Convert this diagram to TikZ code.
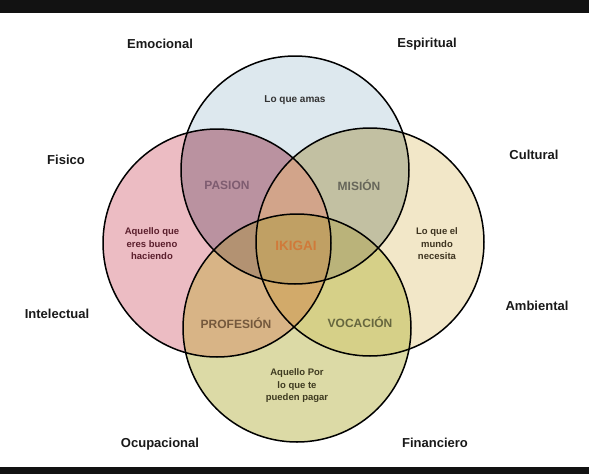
\documentclass[tikz,border=0pt]{standalone}
\usepackage{fontspec}
\setmainfont{Liberation Sans}
\begin{document}
\begin{tikzpicture}[x=1pt,y=1pt,
  ring/.style={circle, draw=black, line width=1.5pt, minimum size=228pt, inner sep=0pt},
  outer/.style={font=\bfseries\fontsize{13}{14}\selectfont, text=black!90},
  zone/.style={font=\bfseries\fontsize{12}{14}\selectfont},
  desc/.style={font=\bfseries\fontsize{9.5}{12.5}\selectfont, align=center}]
\definecolor{cTop}{HTML}{DDE8EE}
\definecolor{cLeft}{HTML}{ECBCC3}
\definecolor{cRight}{HTML}{F2E7C8}
\definecolor{cBot}{HTML}{DCDAA6}
\definecolor{cTL}{HTML}{BA92A0}
\definecolor{cTR}{HTML}{C2C0A2}
\definecolor{cLB}{HTML}{D8B486}
\definecolor{cRB}{HTML}{D6D088}
\definecolor{cTLR}{HTML}{D2A48A}
\definecolor{cTLB}{HTML}{B39272}
\definecolor{cTRB}{HTML}{BAB37A}
\definecolor{cLRB}{HTML}{D2AA6A}
\definecolor{cAll}{HTML}{C0A064}
\definecolor{tPas}{HTML}{7E5C70}
\definecolor{tMis}{HTML}{66665A}
\definecolor{tIki}{HTML}{D07A3A}
\definecolor{tPro}{HTML}{74583C}
\definecolor{tVoc}{HTML}{66663E}
\definecolor{tBue}{HTML}{5A1E2C}
\definecolor{tMun}{HTML}{3E3420}
\definecolor{tPag}{HTML}{3E3A20}
\def\ctop{(295,-170) circle (114)}
\def\cleft{(217,-243) circle (114)}
\def\cright{(370,-242) circle (114)}
\def\cbot{(297,-328) circle (114)}
\useasboundingbox (0,0) rectangle (589,-474);
\fill[white] (0,0) rectangle (589,-474);
\fill[black!93] (0,0) rectangle (589,-13);
\fill[black!93] (0,-467) rectangle (589,-474);
% single fills
\fill[cTop] \ctop;
\fill[cLeft] \cleft;
\fill[cRight] \cright;
\fill[cBot] \cbot;
% pairwise
\begin{scope}\clip \ctop; \fill[cTL] \cleft; \fill[cTR] \cright; \end{scope}
\begin{scope}\clip \cbot; \fill[cLB] \cleft; \fill[cRB] \cright; \end{scope}
% triples
\begin{scope}\clip \ctop; \clip \cleft; \fill[cTLR] \cright; \fill[cTLB] \cbot; \end{scope}
\begin{scope}\clip \ctop; \clip \cright; \fill[cTRB] \cbot; \end{scope}
\begin{scope}\clip \cleft; \clip \cright; \fill[cLRB] \cbot; \end{scope}
\begin{scope}\clip \ctop; \clip \cleft; \clip \cright; \fill[cAll] \cbot; \end{scope}
% outlines
\node[ring] (top) at (295,-170) {};
\node[ring] (left) at (217,-243) {};
\node[ring] (right) at (370,-242) {};
\node[ring] (bot) at (297,-328) {};
% outer labels
\node[outer] (emo) at (160,-44) {Emocional};
\node[outer] (esp) at (427,-44) {Espiritual};
\node[outer] (fis) at (66,-160) {Fisico};
\node[outer] (cul) at (534,-155) {Cultural};
\node[outer] (int) at (57,-314) {Intelectual};
\node[outer] (amb) at (537,-306) {Ambiental};
\node[outer] (ocu) at (160,-444) {Ocupacional};
\node[outer] (fin) at (435,-443) {Financiero};
% zone labels
\node[font=\bfseries\fontsize{10}{12}\selectfont, text=black!80] (amas) at (295,-100) {Lo que amas};
\node[zone, text=tPas] (pas) at (227,-185) {PASION};
\node[zone, text=tMis] (mis) at (359,-185) {MISIÓN};
\node[zone, font=\bfseries\fontsize{13.5}{14}\selectfont, text=tIki] (iki) at (296,-246) {IKIGAI};
\node[zone, text=tPro] (pro) at (236,-323) {PROFESIÓN};
\node[zone, text=tVoc] (voc) at (360,-322) {VOCACIÓN};
\node[desc, text=tBue] (bueno) at (152,-244) {Aquello que\\eres bueno\\haciendo};
\node[desc, text=tMun] (mundo) at (437,-244) {Lo que el\\mundo\\necesita};
\node[desc, text=tPag] (pagar) at (297,-386) {Aquello Por\\lo que te\\pueden pagar};
\end{tikzpicture}
\end{document}
